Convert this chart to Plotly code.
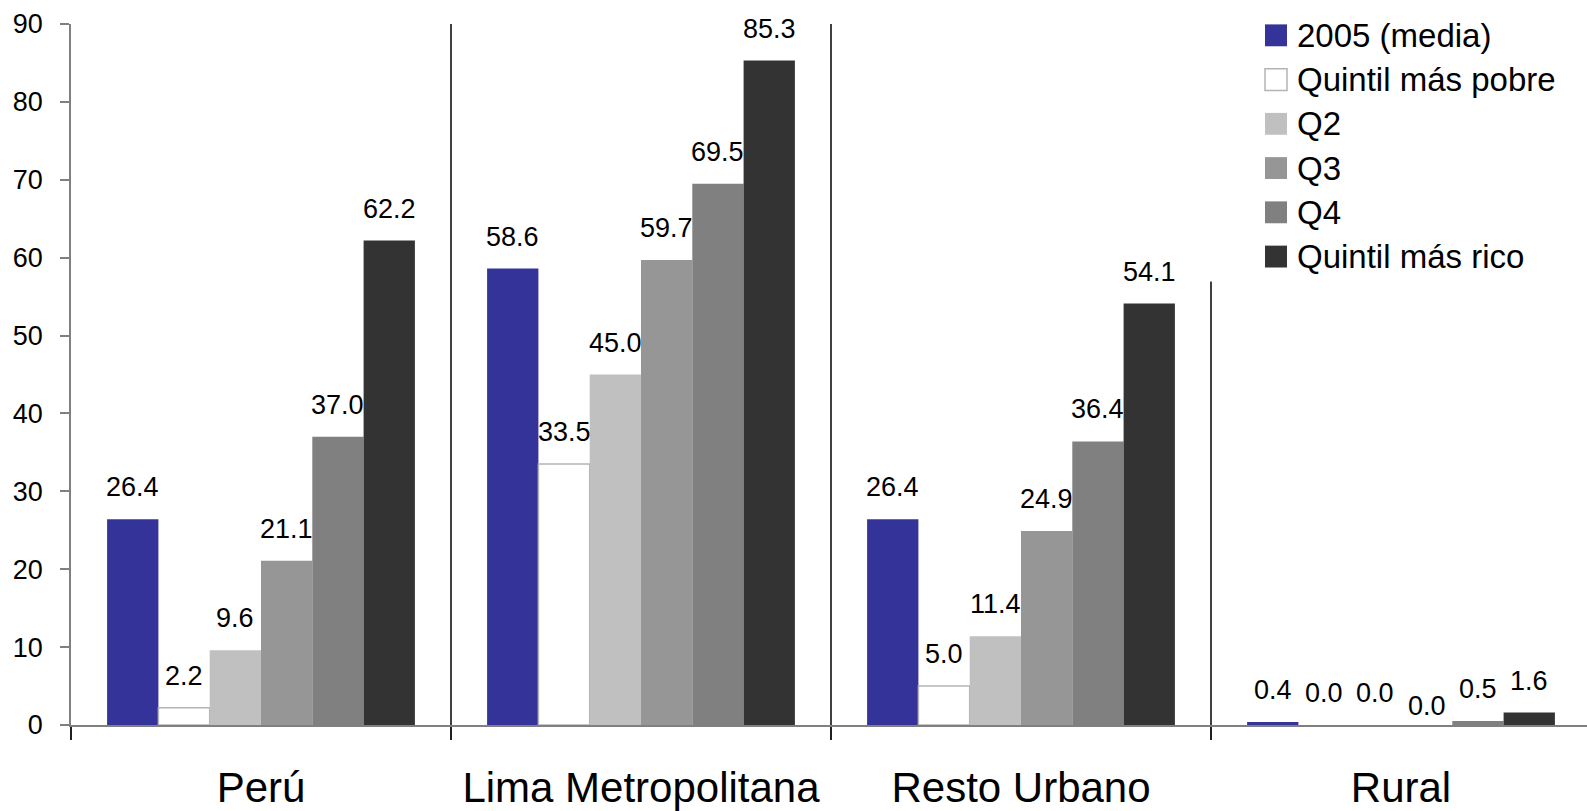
import plotly.graph_objects as go

# Regions on the category axis
regions = ["Perú", "Lima Metropolitana", "Resto Urbano", "Rural"]

# One list per series (percent), in region order
media_2005 = [26.4, 58.6, 26.4, 0.4]
quintil_pobre = [2.2, 33.5, 5.0, 0.0]
q2 = [9.6, 45.0, 11.4, 0.0]
q3 = [21.1, 59.7, 24.9, 0.0]
q4 = [37.0, 69.5, 36.4, 0.5]
quintil_rico = [62.2, 85.3, 54.1, 1.6]

series_names = ["2005 (media)", "Quintil más pobre", "Q2", "Q3", "Q4", "Quintil más rico"]
series_values = [media_2005, quintil_pobre, q2, q3, q4, quintil_rico]

y_ticks = [0, 10, 20, 30, 40, 50, 60, 70, 80, 90]

# Styling
FONT = "Arial, 'Liberation Sans', sans-serif"
fills = ["#333399", "#FFFFFF", "#C0C0C0", "#969696", "#808080", "#333333"]
outlines = ["#333399", "#B4B4B4", "#C0C0C0", "#969696", "#808080", "#333333"]
outline_w = [0, 1.5, 0, 0, 0, 0]
BARGAP = 0.19
LABEL_SHIFT = 15
# label that sits closer to its bar: (region index, series index) -> yshift
label_shift_override = {(3, 3): 2}

fig = go.Figure()
for name, vals, fc, lc, lw in zip(series_names, series_values, fills, outlines, outline_w):
    fig.add_trace(go.Bar(
        name=name, x=regions, y=vals,
        marker=dict(color=fc, line=dict(color=lc, width=[lw if v > 0 else 0 for v in vals])),
        showlegend=False,
    ))

# value labels above each bar
n = len(series_names)
slot = (1 - BARGAP) / n
annotations = []
for j, vals in enumerate(series_values):
    for i, v in enumerate(vals):
        xc = i - (1 - BARGAP) / 2 + (j + 0.5) * slot
        annotations.append(dict(
            x=xc, y=v, xref="x", yref="y", text=f"{v:.1f}",
            showarrow=False, xanchor="center", yanchor="bottom",
            yshift=label_shift_override.get((i, j), LABEL_SHIFT),
            font=dict(family=FONT, size=27, color="#000000"),
        ))

shapes = []
# vertical separators between regions
for b in [0.5, 1.5, 2.5]:
    shapes.append(dict(type="line", xref="x", yref="y", x0=b, x1=b, y0=0, y1=90,
                       line=dict(color="#000000", width=1.5), layer="above"))

# legend box (white background, top right of the plot area)
L, W, T, H = 71, 1516, 24, 705  # plot area in pixels


def px_x(p):
    return (p - L) / W


def px_y(p):
    return (T + H - p) / H


shapes.append(dict(type="rect", xref="paper", yref="paper",
                   x0=px_x(1195), x1=1.0, y0=px_y(283), y1=px_y(0),
                   fillcolor="#FFFFFF", line=dict(width=0), layer="above"))

row0, row_step, sq = 35.4, 44.5, 11
for k, (name, fc, lc) in enumerate(zip(series_names, fills, outlines)):
    cy = row0 + k * row_step
    shapes.append(dict(type="rect", xref="paper", yref="paper",
                       x0=px_x(1265), x1=px_x(1265 + 2 * sq),
                       y0=px_y(cy + sq), y1=px_y(cy - sq),
                       fillcolor=fc,
                       line=dict(color=lc if k == 1 else fc, width=1.5 if k == 1 else 0),
                       layer="above"))
    annotations.append(dict(x=px_x(1295), y=px_y(cy), xref="paper", yref="paper",
                            text=name, showarrow=False, xanchor="left", yanchor="middle",
                            font=dict(family=FONT, size=33, color="#000000")))

fig.update_layout(
    width=1587, height=811,
    margin=dict(l=L, r=0, t=T, b=811 - T - H, pad=0),
    barmode="group", bargap=BARGAP, bargroupgap=0,
    paper_bgcolor="#FFFFFF", plot_bgcolor="#FFFFFF",
    font=dict(family=FONT, color="#000000"),
    shapes=shapes, annotations=annotations,
    showlegend=False,
)
fig.update_xaxes(
    type="category", range=[-0.5, -0.5 + W / 380.0],
    showline=True, linecolor="#808080", linewidth=2,
    ticks="outside", tickson="boundaries", ticklen=13, tickwidth=1.5, tickcolor="#202020",
    ticklabelstandoff=25,
    tickfont=dict(family=FONT, size=42, color="#000000"),
    showgrid=False, zeroline=False,
)
fig.update_yaxes(
    range=[0, 90], tickvals=y_ticks,
    showline=True, linecolor="#808080", linewidth=1.5,
    ticks="outside", ticklen=9, tickwidth=1.5, tickcolor="#808080",
    ticklabelstandoff=12,
    tickfont=dict(family=FONT, size=27, color="#000000"),
    showgrid=False, zeroline=False,
)

fig.write_html("out.html")
